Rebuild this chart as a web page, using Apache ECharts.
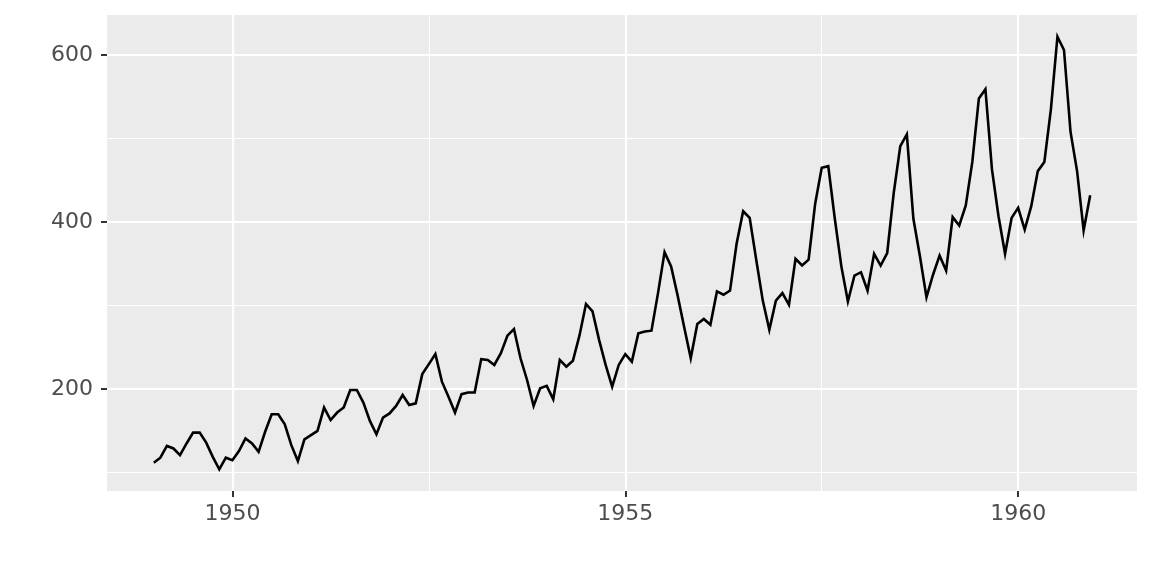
<!DOCTYPE html>
<html><head><meta charset="utf-8">
<script src="https://cdn.jsdelivr.net/npm/echarts@6/dist/echarts.min.js"></script>
<style>html,body{margin:0;padding:0;background:#fff}#c{width:1152px;height:576px}</style>
</head><body><div id="c"></div>
<script>
const years = [1949,1950,1951,1952,1953,1954,1955,1956,1957,1958,1959,1960];
const passengers = [
 [112,118,132,129,121,135,148,148,136,119,104,118],
 [115,126,141,135,125,149,170,170,158,133,114,140],
 [145,150,178,163,172,178,199,199,184,162,146,166],
 [171,180,193,181,183,218,230,242,209,191,172,194],
 [196,196,236,235,229,243,264,272,237,211,180,201],
 [204,188,235,227,234,264,302,293,259,229,203,229],
 [242,233,267,269,270,315,364,347,312,274,237,278],
 [284,277,317,313,318,374,413,405,355,306,271,306],
 [315,301,356,348,355,422,465,467,404,347,305,336],
 [340,318,362,348,363,435,491,505,404,359,310,337],
 [360,342,406,396,420,472,548,559,463,407,362,405],
 [417,391,419,461,472,535,622,606,508,461,390,432]
];
const xTicks = [1950,1955,1960];
const xMinor = [1952.5,1957.5];
const yTicks = [200,400,600];
const yMinor = [100,300,500];

const data = [];
years.forEach((y,i)=>passengers[i].forEach((v,m)=>data.push([y+m/12, v])));
const xs = data.map(d=>d[0]), vs = data.map(d=>d[1]);
const xLo = Math.min(...xs), xHi = Math.max(...xs);
const yLo = Math.min(...vs), yHi = Math.max(...vs);
const xPad = (xHi-xLo)*0.05, yPad = (yHi-yLo)*0.05;

const gridLines = [];
xTicks.forEach(v=>gridLines.push({xAxis:v, lineStyle:{width:2.2}}));
xMinor.forEach(v=>gridLines.push({xAxis:v, lineStyle:{width:1.1}}));
yTicks.forEach(v=>gridLines.push({yAxis:v, lineStyle:{width:2.2}}));
yMinor.forEach(v=>gridLines.push({yAxis:v, lineStyle:{width:1.1}}));

const chart = echarts.init(document.getElementById('c'));
chart.setOption({
  animation:false,
  grid:{left:107, right:15, top:15, bottom:85, show:true, backgroundColor:'#EBEBEB', borderWidth:0},
  xAxis:{type:'value', min:xLo-xPad, max:xHi+xPad,
    axisLine:{show:false}, splitLine:{show:false},
    axisTick:{show:true, length:6, lineStyle:{color:'#333333', width:2}, customValues:xTicks},
    axisLabel:{color:'#4D4D4D', fontSize:22, fontFamily:'DejaVu Sans', margin:12, customValues:xTicks, formatter:v=>String(Math.round(v))}},
  yAxis:{type:'value', min:yLo-yPad, max:yHi+yPad,
    axisLine:{show:false}, splitLine:{show:false},
    axisTick:{show:true, length:6, lineStyle:{color:'#333333', width:2}, customValues:yTicks},
    axisLabel:{color:'#4D4D4D', fontSize:22, fontFamily:'DejaVu Sans', margin:14, customValues:yTicks, formatter:v=>String(Math.round(v))}},
  series:[
    {type:'line', data:[], z:1, silent:true,
      markLine:{silent:true, symbol:['none','none'], label:{show:false}, animation:false,
        lineStyle:{color:'#FFFFFF', type:'solid'}, emphasis:{disabled:true}, data:gridLines}},
    {type:'line', data:data, z:5, symbol:'none', showSymbol:false,
      lineStyle:{color:'#000000', width:2.6, join:'miter'}}
  ]
});
</script></body></html>
